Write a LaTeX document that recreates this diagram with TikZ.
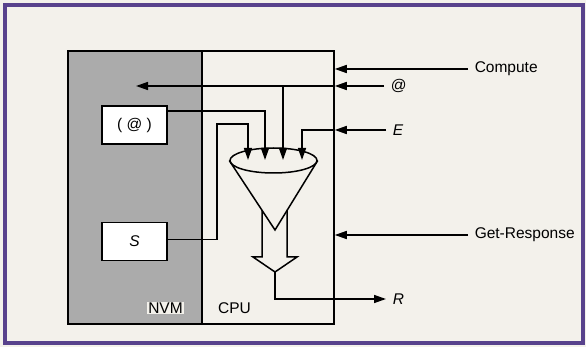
\documentclass[tikz,border=0pt]{standalone}
\usepackage{fontspec}
\setmainfont{Liberation Sans}
\usetikzlibrary{arrows.meta,shapes.geometric}
\definecolor{frame}{RGB}{88,66,140}
\definecolor{paper}{RGB}{243,241,235}
\begin{document}
\begin{tikzpicture}[x=1pt,y=-1pt,line width=1.5pt,
    >={Triangle[length=12pt,width=8pt]},
    font=\fontsize{15.5}{18}\selectfont,
    reg/.style={draw,fill=white,minimum width=65pt,minimum height=38pt},
    lbl/.style={anchor=west,inner sep=6pt}]
\useasboundingbox (0,0) rectangle (586,347);
\fill[paper] (0,0) rectangle (586,347);
\draw[frame,line width=3.5pt] (5,5) rectangle (583,343);
% the two halves
\node[draw,fill=black!33,minimum width=134pt,minimum height=273pt,inner sep=0](nvm) at (135,187.5){};
\node[draw,minimum width=132pt,minimum height=273pt,inner sep=0](cpu) at (268,187.5){};
\node[fill=paper,inner sep=1pt](nvmlbl) at (165.5,308){NVM};
\node(cpulbl) at (234.5,308){CPU};
\node[reg](mem) at (134.5,125){( @ )};
\node[reg](sreg) at (134.5,241.5){\textit{S}};
% funnel
\node[draw,ellipse,minimum width=87pt,minimum height=25pt,inner sep=0](funnel) at (273.5,160.5){};
\coordinate(cone) at (275,230);
\draw(funnel.west)--(cone)--(funnel.east);
\draw(262,210)--(262,257)--(253,257)--(275,272)--(297,257)--(287,257)--(287,210);
\coordinate(out) at (275,272);
% outside labels
\node[lbl](compute) at (468,69){Compute};
\node[lbl](atlbl) at (384,86){@};
\node[lbl](elbl) at (386,130){\textit{E}};
\node[lbl](getresp) at (468,235){Get-Response};
\node[lbl](rlbl) at (386,299){\textit{R}};
\coordinate(in1) at (248,160);
\coordinate(in2) at (265,160);
\coordinate(in3) at (283,160);
\coordinate(in4) at (302,160);
\coordinate(bend) at (217,124);
\coordinate(atend) at (136,86);
% connectors
\draw[->](compute.west)--(cpu.east |- compute);
\draw[->](getresp.west)--(cpu.east |- getresp);
\draw[->](atlbl.west)--(cpu.east |- atlbl);
\draw[->](elbl.west)--(cpu.east |- elbl);
\draw[->](cpu.east |- atlbl)--(atend);
\draw[->](in3 |- atlbl)--(in3);
\draw[->](cpu.east |- elbl)-|(in4);
\draw[->]([yshift=14pt]mem.east)-|(in2);
\draw[->]([yshift=2pt]sreg.east)-|(bend)-|(in1);
\draw[->](out)|-(rlbl.west);
\end{tikzpicture}
\end{document}
